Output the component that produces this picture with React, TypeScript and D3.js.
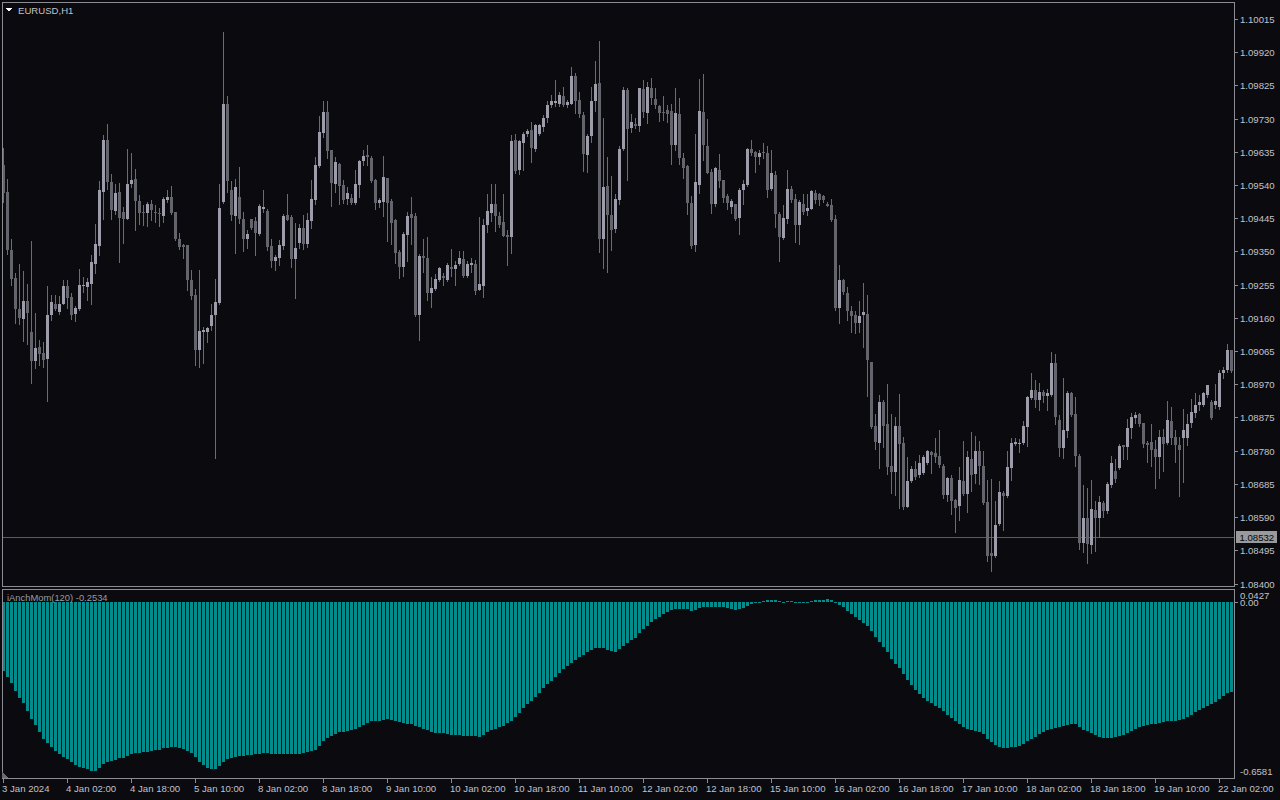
import React from "react";
import * as d3 from "d3";

// ---------- DATA (EURUSD H1) ----------
const opens = [
1.09597,1.09519,1.09353,1.09274,1.09186,1.09156,1.09207,1.09119,1.09036,1.09076,
1.09059,1.09041,1.09168,1.09201,1.09176,1.09201,1.09250,1.09219,1.09170,1.09185,
1.09251,1.09248,1.09256,1.09314,1.09365,1.09520,1.09668,1.09548,1.09466,1.09520,
1.09462,1.09444,1.09542,1.09556,1.09495,1.09464,1.09460,1.09485,1.09464,1.09460,
1.09452,1.09497,1.09507,1.09462,1.09385,1.09367,1.09367,1.09268,1.09224,1.09067,
1.09120,1.09120,1.09136,1.09167,1.09203,1.09492,1.09773,1.09527,1.09452,1.09506,
1.09444,1.09385,1.09442,1.09436,1.09400,1.09470,1.09465,1.09365,1.09323,1.09332,
1.09365,1.09453,1.09448,1.09329,1.09373,1.09416,1.09372,1.09437,1.09496,1.09594,
1.09689,1.09748,1.09639,1.09542,1.09601,1.09539,1.09499,1.09502,1.09489,1.09541,
1.09608,1.09625,1.09617,1.09555,1.09489,1.09491,1.09559,1.09493,1.09439,1.09348,
1.09305,1.09397,1.09456,1.09450,1.09167,1.09336,1.09332,1.09231,1.09242,1.09269,
1.09279,1.09269,1.09306,1.09300,1.09313,1.09329,1.09280,1.09310,1.09313,1.09241,
1.09250,1.09426,1.09460,1.09485,1.09451,1.09433,1.09396,1.09391,1.09668,1.09582,
1.09661,1.09687,1.09697,1.09642,1.09685,1.09706,1.09732,1.09769,1.09774,1.09773,
1.09794,1.09769,1.09773,1.09851,1.09783,1.09740,1.09625,1.09679,1.09780,1.09832,
1.09386,1.09537,1.09455,1.09413,1.09496,1.09642,1.09813,1.09703,1.09716,1.09708,
1.09816,1.09746,1.09818,1.09787,1.09765,1.09748,1.09754,1.09751,1.09654,1.09742,
1.09616,1.09594,1.09488,1.09367,1.09541,1.09748,1.09651,1.09577,1.09485,1.09582,
1.09553,1.09508,1.09477,1.09485,1.09446,1.09525,1.09540,1.09642,1.09635,1.09620,
1.09634,1.09632,1.09530,1.09568,1.09458,1.09388,1.09442,1.09528,1.09499,1.09427,
1.09487,1.09465,1.09470,1.09518,1.09513,1.09510,1.09485,1.09482,1.09442,1.09189,
1.09267,1.09232,1.09181,1.09167,1.09145,1.09167,1.09172,1.09035,1.08852,1.08801,
1.08919,1.08857,1.08735,1.08718,1.08851,1.08803,1.08620,1.08692,1.08729,1.08709,
1.08715,1.08744,1.08776,1.08772,1.08766,1.08737,1.08654,1.08701,1.08639,1.08621,
1.08692,1.08656,1.08755,1.08712,1.08780,1.08737,1.08634,1.08486,1.08480,1.08569,
1.08660,1.08649,1.08730,1.08798,1.08801,1.08803,1.08849,1.08931,1.08955,1.08924,
1.08947,1.08936,1.08938,1.09030,1.08869,1.08788,1.08836,1.08945,1.08884,1.08766,
1.08515,1.08588,1.08510,1.08611,1.08587,1.08629,1.08606,1.08682,1.08723,1.08730,
1.08795,1.08790,1.08844,1.08873,1.08884,1.08858,1.08801,1.08804,1.08784,1.08761,
1.08820,1.08801,1.08866,1.08819,1.08797,1.08817,1.08816,1.08859,1.08888,1.08910,
1.08912,1.08938,1.08919,1.08910,1.08906,1.09002,1.09010,1.09067];

const highs = [
1.09645,1.09556,1.09385,1.09287,1.09313,1.09294,1.09258,1.09379,1.09175,1.09096,
1.09090,1.09250,1.09224,1.09224,1.09222,1.09268,1.09268,1.09231,1.09193,1.09299,
1.09277,1.09274,1.09339,1.09428,1.09551,1.09683,1.09714,1.09571,1.09544,1.09546,
1.09478,1.09643,1.09632,1.09585,1.09511,1.09482,1.09492,1.09497,1.09482,1.09473,
1.09506,1.09527,1.09538,1.09463,1.09404,1.09372,1.09367,1.09296,1.09243,1.09296,
1.09134,1.09134,1.09201,1.09272,1.09542,1.09977,1.09796,1.09552,1.09558,1.09591,
1.09464,1.09411,1.09444,1.09449,1.09487,1.09525,1.09470,1.09385,1.09341,1.09382,
1.09458,1.09514,1.09453,1.09430,1.09429,1.09455,1.09460,1.09553,1.09620,1.09737,
1.09780,1.09780,1.09641,1.09620,1.09603,1.09555,1.09534,1.09515,1.09584,1.09611,
1.09639,1.09654,1.09622,1.09556,1.09503,1.09622,1.09559,1.09501,1.09444,1.09353,
1.09407,1.09463,1.09506,1.09460,1.09344,1.09385,1.09391,1.09277,1.09286,1.09305,
1.09288,1.09318,1.09356,1.09324,1.09350,1.09350,1.09324,1.09332,1.09326,1.09448,
1.09444,1.09513,1.09542,1.09544,1.09463,1.09513,1.09410,1.09682,1.09685,1.09668,
1.09692,1.09701,1.09720,1.09716,1.09716,1.09740,1.09781,1.09797,1.09840,1.09805,
1.09820,1.09784,1.09877,1.09861,1.09806,1.09749,1.09687,1.09821,1.09894,1.09952,
1.09731,1.09620,1.09566,1.09515,1.09651,1.09821,1.09819,1.09742,1.09733,1.09819,
1.09840,1.09835,1.09845,1.09819,1.09768,1.09794,1.09768,1.09771,1.09819,1.09790,
1.09633,1.09596,1.09510,1.09687,1.09842,1.09859,1.09728,1.09587,1.09592,1.09628,
1.09555,1.09515,1.09501,1.09487,1.09532,1.09553,1.09647,1.09668,1.09637,1.09641,
1.09659,1.09653,1.09641,1.09580,1.09463,1.09482,1.09582,1.09536,1.09515,1.09496,
1.09515,1.09515,1.09527,1.09527,1.09517,1.09511,1.09491,1.09501,1.09453,1.09310,
1.09272,1.09248,1.09193,1.09181,1.09207,1.09260,1.09226,1.09035,1.08885,1.08938,
1.08924,1.08971,1.08885,1.08876,1.08941,1.08820,1.08763,1.08737,1.08750,1.08768,
1.08769,1.08782,1.08779,1.08816,1.08840,1.08742,1.08704,1.08709,1.08642,1.08733,
1.08809,1.08779,1.08833,1.08823,1.08809,1.08779,1.08697,1.08699,1.08637,1.08693,
1.08666,1.08780,1.08817,1.08817,1.08814,1.08866,1.08936,1.09002,1.08981,1.08973,
1.08954,1.08957,1.09061,1.09057,1.08883,1.08987,1.08952,1.08949,1.08933,1.08771,
1.08683,1.08672,1.08695,1.08635,1.08649,1.08635,1.08690,1.08766,1.08757,1.08800,
1.08797,1.08871,1.08889,1.08890,1.08888,1.08860,1.08807,1.08857,1.08811,1.08840,
1.08842,1.08922,1.08904,1.08838,1.08819,1.08898,1.08885,1.08929,1.08945,1.08938,
1.08949,1.08969,1.08924,1.08971,1.09011,1.09019,1.09084,1.09069];

const lows = [
1.09492,1.09344,1.09253,1.09145,1.09143,1.09094,1.09086,1.08973,1.09016,1.09026,
1.09019,1.08922,1.09153,1.09182,1.09172,1.09199,1.09188,1.09156,1.09150,1.09183,
1.09234,1.09212,1.09201,1.09287,1.09339,1.09444,1.09530,1.09443,1.09458,1.09320,
1.09374,1.09442,1.09535,1.09411,1.09428,1.09425,1.09422,1.09441,1.09434,1.09423,
1.09434,1.09492,1.09456,1.09382,1.09357,1.09332,1.09239,1.09215,1.09025,1.09019,
1.09031,1.09091,1.09126,1.08759,1.09201,1.09489,1.09520,1.09441,1.09346,1.09430,
1.09351,1.09360,1.09415,1.09341,1.09396,1.09463,1.09355,1.09306,1.09298,1.09312,
1.09358,1.09439,1.09306,1.09217,1.09360,1.09358,1.09363,1.09418,1.09487,1.09592,
1.09676,1.09617,1.09480,1.09519,1.09487,1.09490,1.09487,1.09485,1.09487,1.09506,
1.09596,1.09596,1.09549,1.09470,1.09477,1.09451,1.09379,1.09372,1.09317,1.09275,
1.09280,1.09324,1.09372,1.09164,1.09097,1.09291,1.09212,1.09191,1.09239,1.09265,
1.09253,1.09265,1.09281,1.09253,1.09310,1.09277,1.09277,1.09291,1.09227,1.09239,
1.09219,1.09405,1.09437,1.09408,1.09420,1.09393,1.09310,1.09345,1.09574,1.09571,
1.09584,1.09679,1.09606,1.09637,1.09682,1.09695,1.09720,1.09762,1.09765,1.09765,
1.09765,1.09762,1.09771,1.09746,1.09735,1.09580,1.09577,1.09663,1.09751,1.09348,
1.09302,1.09291,1.09355,1.09405,1.09487,1.09639,1.09553,1.09692,1.09704,1.09695,
1.09735,1.09718,1.09771,1.09761,1.09723,1.09727,1.09720,1.09599,1.09641,1.09599,
1.09560,1.09456,1.09361,1.09351,1.09517,1.09611,1.09573,1.09460,1.09480,1.09534,
1.09491,1.09472,1.09460,1.09441,1.09401,1.09485,1.09538,1.09625,1.09577,1.09601,
1.09616,1.09506,1.09527,1.09420,1.09324,1.09386,1.09431,1.09491,1.09377,1.09372,
1.09458,1.09455,1.09470,1.09489,1.09484,1.09491,1.09479,1.09437,1.09183,1.09145,
1.09229,1.09155,1.09119,1.09116,1.09119,1.09076,1.08935,1.08845,1.08785,1.08731,
1.08790,1.08714,1.08658,1.08652,1.08616,1.08613,1.08618,1.08690,1.08699,1.08706,
1.08712,1.08742,1.08716,1.08747,1.08733,1.08644,1.08637,1.08599,1.08547,1.08582,
1.08654,1.08604,1.08666,1.08687,1.08685,1.08628,1.08465,1.08435,1.08477,1.08566,
1.08553,1.08647,1.08696,1.08795,1.08776,1.08800,1.08792,1.08928,1.08906,1.08895,
1.08919,1.08895,1.08935,1.08855,1.08766,1.08759,1.08820,1.08878,1.08735,1.08499,
1.08489,1.08458,1.08486,1.08492,1.08532,1.08591,1.08603,1.08675,1.08690,1.08728,
1.08757,1.08757,1.08817,1.08859,1.08852,1.08790,1.08747,1.08737,1.08673,1.08702,
1.08721,1.08798,1.08800,1.08749,1.08650,1.08690,1.08795,1.08849,1.08876,1.08897,
1.08909,1.08933,1.08871,1.08903,1.08900,1.08989,1.09005,1.09005];

const closes = [
1.09516,1.09353,1.09270,1.09185,1.09160,1.09207,1.09174,1.09036,1.09075,1.09056,
1.09038,1.09167,1.09204,1.09185,1.09199,1.09250,1.09217,1.09167,1.09188,1.09253,
1.09253,1.09262,1.09319,1.09371,1.09525,1.09668,1.09548,1.09468,1.09517,1.09447,
1.09443,1.09542,1.09554,1.09495,1.09460,1.09462,1.09485,1.09468,1.09460,1.09456,
1.09501,1.09506,1.09460,1.09385,1.09363,1.09363,1.09268,1.09222,1.09067,1.09121,
1.09126,1.09132,1.09169,1.09204,1.09473,1.09773,1.09551,1.09454,1.09533,1.09442,
1.09386,1.09401,1.09418,1.09404,1.09479,1.09476,1.09363,1.09323,1.09333,1.09367,
1.09451,1.09441,1.09329,1.09361,1.09416,1.09372,1.09439,1.09501,1.09596,1.09691,
1.09748,1.09637,1.09546,1.09605,1.09537,1.09496,1.09516,1.09489,1.09544,1.09608,
1.09622,1.09619,1.09551,1.09489,1.09496,1.09562,1.09490,1.09431,1.09345,1.09305,
1.09399,1.09452,1.09447,1.09167,1.09336,1.09331,1.09231,1.09245,1.09272,1.09302,
1.09274,1.09310,1.09301,1.09312,1.09332,1.09281,1.09313,1.09317,1.09237,1.09256,
1.09427,1.09465,1.09486,1.09451,1.09427,1.09394,1.09391,1.09665,1.09580,1.09665,
1.09685,1.09695,1.09647,1.09711,1.09713,1.09732,1.09770,1.09780,1.09780,1.09797,
1.09769,1.09777,1.09851,1.09780,1.09742,1.09630,1.09679,1.09780,1.09828,1.09385,
1.09534,1.09453,1.09410,1.09501,1.09642,1.09811,1.09701,1.09719,1.09708,1.09818,
1.09749,1.09820,1.09789,1.09768,1.09746,1.09746,1.09742,1.09654,1.09746,1.09616,
1.09589,1.09489,1.09366,1.09548,1.09751,1.09654,1.09574,1.09485,1.09589,1.09552,
1.09503,1.09489,1.09493,1.09443,1.09525,1.09542,1.09642,1.09632,1.09620,1.09632,
1.09632,1.09527,1.09573,1.09458,1.09391,1.09447,1.09530,1.09496,1.09427,1.09491,
1.09463,1.09473,1.09522,1.09496,1.09498,1.09496,1.09481,1.09439,1.09189,1.09267,
1.09234,1.09181,1.09165,1.09145,1.09165,1.09178,1.09038,1.08849,1.08804,1.08919,
1.08852,1.08733,1.08718,1.08850,1.08799,1.08620,1.08694,1.08729,1.08704,1.08746,
1.08763,1.08778,1.08769,1.08763,1.08740,1.08652,1.08701,1.08637,1.08615,1.08695,
1.08656,1.08761,1.08709,1.08778,1.08736,1.08630,1.08480,1.08480,1.08566,1.08663,
1.08650,1.08733,1.08803,1.08806,1.08803,1.08852,1.08933,1.08955,1.08926,1.08947,
1.08935,1.08945,1.09032,1.08876,1.08787,1.08838,1.08945,1.08883,1.08764,1.08517,
1.08588,1.08513,1.08612,1.08587,1.08632,1.08607,1.08684,1.08746,1.08699,1.08793,
1.08790,1.08846,1.08876,1.08882,1.08857,1.08800,1.08796,1.08783,1.08763,1.08820,
1.08800,1.08868,1.08816,1.08795,1.08782,1.08840,1.08857,1.08890,1.08912,1.08919,
1.08945,1.08967,1.08873,1.08921,1.09003,1.09011,1.09067,1.09008];

// iAnchMom(120) histogram values
const momentum = [
-0.270,-0.292,-0.315,-0.348,-0.374,-0.396,-0.426,-0.457,-0.480,-0.506,
-0.535,-0.549,-0.567,-0.580,-0.594,-0.604,-0.613,-0.623,-0.636,-0.644,
-0.649,-0.653,-0.658,-0.658,-0.649,-0.633,-0.626,-0.620,-0.617,-0.610,
-0.607,-0.602,-0.594,-0.589,-0.588,-0.584,-0.584,-0.582,-0.578,-0.576,
-0.571,-0.569,-0.566,-0.566,-0.569,-0.574,-0.580,-0.591,-0.606,-0.623,
-0.636,-0.646,-0.653,-0.652,-0.640,-0.623,-0.614,-0.607,-0.604,-0.601,
-0.600,-0.597,-0.597,-0.594,-0.593,-0.591,-0.591,-0.592,-0.594,-0.594,
-0.594,-0.593,-0.592,-0.593,-0.592,-0.588,-0.584,-0.583,-0.576,-0.563,
-0.543,-0.532,-0.522,-0.514,-0.509,-0.506,-0.502,-0.500,-0.495,-0.487,
-0.480,-0.472,-0.466,-0.465,-0.463,-0.461,-0.458,-0.462,-0.465,-0.470,
-0.474,-0.475,-0.476,-0.484,-0.489,-0.495,-0.500,-0.506,-0.510,-0.511,
-0.513,-0.517,-0.520,-0.520,-0.520,-0.522,-0.522,-0.522,-0.524,-0.526,
-0.518,-0.508,-0.501,-0.495,-0.489,-0.483,-0.474,-0.463,-0.449,-0.432,
-0.415,-0.400,-0.386,-0.370,-0.354,-0.337,-0.322,-0.308,-0.292,-0.276,
-0.261,-0.251,-0.240,-0.228,-0.215,-0.208,-0.197,-0.188,-0.179,-0.179,
-0.182,-0.187,-0.193,-0.195,-0.184,-0.174,-0.161,-0.151,-0.140,-0.123,
-0.108,-0.093,-0.080,-0.067,-0.058,-0.049,-0.042,-0.034,-0.029,-0.027,
-0.027,-0.029,-0.036,-0.032,-0.023,-0.021,-0.021,-0.021,-0.021,-0.021,
-0.022,-0.026,-0.030,-0.031,-0.030,-0.023,-0.016,-0.009,-0.006,-0.004,
0.003,0.005,0.008,0.005,0.003,-0.001,0.001,0.001,-0.001,-0.001,
-0.001,-0.001,0.003,0.005,0.006,0.008,0.009,0.008,-0.005,-0.013,
-0.022,-0.035,-0.047,-0.060,-0.073,-0.082,-0.095,-0.114,-0.136,-0.156,
-0.175,-0.196,-0.222,-0.244,-0.260,-0.280,-0.305,-0.325,-0.343,-0.358,
-0.374,-0.386,-0.396,-0.405,-0.414,-0.427,-0.441,-0.453,-0.463,-0.475,
-0.487,-0.495,-0.500,-0.502,-0.508,-0.517,-0.533,-0.546,-0.558,-0.566,
-0.571,-0.571,-0.567,-0.566,-0.563,-0.554,-0.544,-0.533,-0.526,-0.517,
-0.508,-0.500,-0.495,-0.491,-0.489,-0.484,-0.479,-0.478,-0.478,-0.487,
-0.498,-0.505,-0.513,-0.520,-0.527,-0.531,-0.532,-0.531,-0.528,-0.524,
-0.520,-0.513,-0.502,-0.495,-0.489,-0.485,-0.480,-0.478,-0.476,-0.472,
-0.467,-0.465,-0.465,-0.463,-0.462,-0.458,-0.450,-0.441,-0.431,-0.422,
-0.414,-0.405,-0.397,-0.389,-0.379,-0.369,-0.357,-0.350];

const timeLabels = [
"3 Jan 2024","4 Jan 02:00","4 Jan 18:00","5 Jan 10:00","8 Jan 02:00",
"8 Jan 18:00","9 Jan 10:00","10 Jan 02:00","10 Jan 18:00","11 Jan 10:00",
"12 Jan 02:00","12 Jan 18:00","15 Jan 10:00","16 Jan 02:00","16 Jan 18:00",
"17 Jan 10:00","18 Jan 02:00","18 Jan 18:00","19 Jan 10:00","22 Jan 02:00"];
const timeLabelStep = 16; // bars between time labels

const priceTicks = [
1.10015,1.09920,1.09825,1.09730,1.09635,1.09540,1.09445,1.09350,1.09255,
1.09160,1.09065,1.08970,1.08875,1.08780,1.08685,1.08590,1.08495,1.08400];
const bidPrice = 1.08532;
const momMax = 0.0427;
const momMin = -0.6581;
const momLast = -0.2534;
const symbol = "EURUSD,H1";
const indicatorName = "iAnchMom(120)";

// ---------- STYLE ----------
const BG = "#0a0a0f";
const FRAME = "#8c8c94";
const TEXT = "#c2c2cc";
const BULL = "#9c9caa";
const BEAR = "#64646c";
const WICK = "#6c6c74";
const HIST = "#048c8c";
const FONT = "'Liberation Sans', Arial, sans-serif";

export default function App() {
  const N = closes.length;
  const left = 2, right = 1234;
  const mainTop = 2, mainBottom = 587, subTop = 590, subBottom = 778;

  const x = d3.scaleBand<number>().domain(d3.range(N)).range([1.5, 1.5 + 4 * N]).padding(0);
  const cx = (i: number) => (x(i) as number) + x.bandwidth() / 2;
  const y = d3.scaleLinear().domain([1.084, 1.10015]).range([583.5, 19]);
  const ym = d3.scaleLinear().domain([momMin, momMax]).range([770.7, 590.7]);
  const fmt = d3.format(".5f");

  const candles = d3.range(N).map((i) => {
    const o = opens[i], c = closes[i];
    const h = Math.max(highs[i], o, c), l = Math.min(lows[i], o, c);
    const c0 = cx(i);
    const top = Math.round(y(Math.max(o, c)));
    const bot = Math.round(y(Math.min(o, c)));
    return (
      <g key={i}>
        <line x1={Math.floor(c0) + 0.5} x2={Math.floor(c0) + 0.5}
          y1={Math.round(y(h))} y2={Math.round(y(l)) + 1} stroke={WICK} strokeWidth={1} />
        <rect x={Math.floor(c0) - 1} y={top} width={3} height={Math.max(1, bot - top)}
          fill={c >= o ? BULL : BEAR} />
      </g>
    );
  });

  const zeroY = Math.round(ym(0));
  const bars = momentum.map((v, i) => {
    const yv = Math.round(ym(v));
    const y0 = Math.min(yv, zeroY), y1 = Math.max(yv, zeroY);
    return <rect key={i} x={Math.floor(cx(i)) - 1} y={y0} width={3} height={Math.max(1, y1 - y0)} fill={HIST} />;
  });

  const bidY = Math.round(y(bidPrice)) + 0.5;

  return (
    <svg width={1280} height={800} style={{ position: "fixed", left: 0, top: 0, display: "block" }}
      fontFamily={FONT} shapeRendering="crispEdges">
      <rect x={0} y={0} width={1280} height={800} fill={BG} />

      {/* main window */}
      <line x1={left + 0.5} x2={right + 0.5} y1={bidY} y2={bidY} stroke="#5a5a62" />
      <g>{candles}</g>
      <rect x={left + 0.5} y={mainTop + 0.5} width={right - left} height={mainBottom - mainTop - 1}
        fill="none" stroke={FRAME} />
      <polygon points="6,8 12,8 9,12" fill="#ffffff" />
      <text x={18} y={14} fontSize={9.6} fill={TEXT}>{symbol}</text>

      {/* price axis */}
      {priceTicks.map((p) => {
        const py = Math.round(y(p)) + 0.5;
        return (
          <g key={p}>
            <line x1={right + 0.5} x2={right + 4} y1={py} y2={py} stroke={FRAME} />
            <text x={1240} y={py + 3.5} fontSize={9.6} fill={TEXT}>{fmt(p)}</text>
          </g>
        );
      })}
      <rect x={1236} y={bidY - 6.5} width={41} height={12} fill="#9a9a9c" />
      <text x={1239.5} y={bidY + 3.5} fontSize={9.6} fill="#050508">{fmt(bidPrice)}</text>

      {/* sub window */}
      <g>{bars}</g>
      <rect x={left + 0.5} y={subTop - 0.5} width={right - left} height={subBottom - subTop + 0.5}
        fill="none" stroke={FRAME} />
      <text x={7} y={601} fontSize={9.4} fill="#9a9aa2">{`${indicatorName} ${momLast.toFixed(4)}`}</text>
      <polygon points="2,771 2,778 8,778" fill="#6a6a72" />
      <text x={1240} y={ym(momMax) + 8.5} fontSize={9.6} fill={TEXT}>{momMax.toFixed(4)}</text>
      <line x1={right + 0.5} x2={right + 4} y1={zeroY + 0.5} y2={zeroY + 0.5} stroke={FRAME} />
      <text x={1240} y={zeroY + 4} fontSize={9.6} fill={TEXT}>{(0).toFixed(2)}</text>
      <text x={1240} y={ym(momMin) + 4.5} fontSize={9.6} fill={TEXT}>{momMin.toFixed(4)}</text>

      {/* time axis */}
      {timeLabels.map((t, k) => {
        const i = k * timeLabelStep;
        const tx = Math.floor(cx(i)) + 0.5;
        return (
          <g key={t}>
            <line x1={tx} x2={tx} y1={subBottom} y2={subBottom + 5} stroke={FRAME} />
            <text x={tx - 1.5} y={792} fontSize={9.6} fill={TEXT}>{t}</text>
          </g>
        );
      })}
    </svg>
  );
}
